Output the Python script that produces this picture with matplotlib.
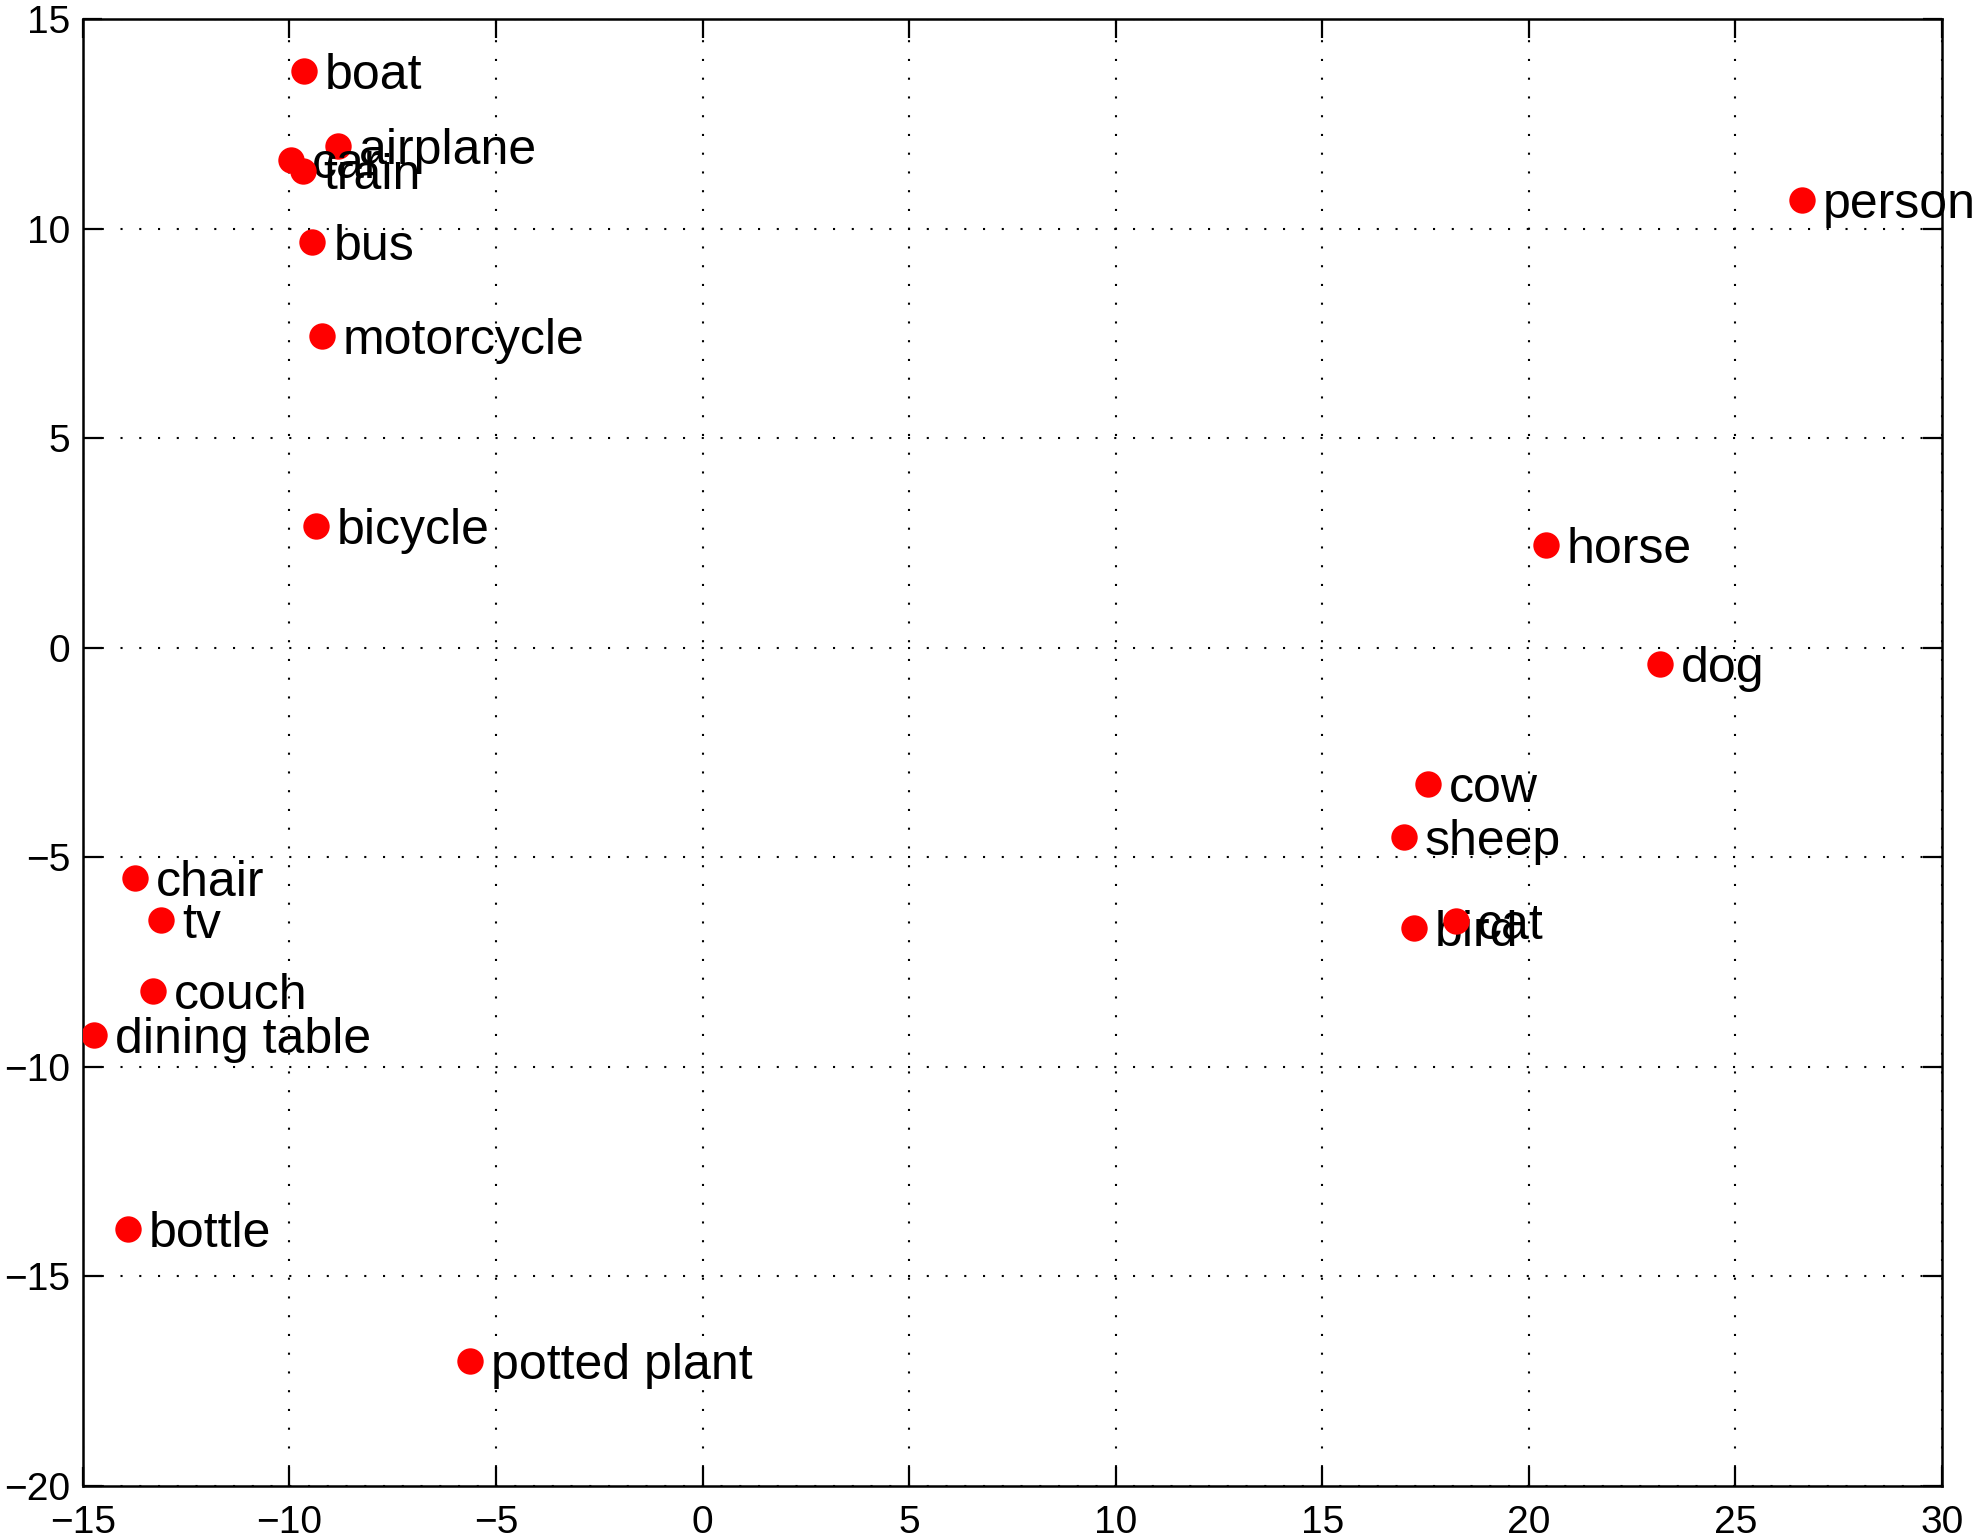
import matplotlib
matplotlib.use("Agg")
import matplotlib.pyplot as plt

plt.rcParams['font.family'] = ['Liberation Sans', 'DejaVu Sans']

# Categories (plot order) and their 2-D embedding coordinates
labels = ["airplane", "bicycle", "bird", "boat", "bottle", "bus", "car", "cat",
          "chair", "cow", "dining table", "dog", "horse", "motorcycle", "person",
          "potted plant", "sheep", "couch", "train", "tv"]
x_vals = [-8.82, -9.35, 17.22, -9.65, -13.90, -9.44, -9.95, 18.24,
          -13.73, 17.55, -14.73, 23.18, 20.41, -9.21, 26.60,
          -5.63, 16.97, -13.31, -9.68, -13.10]
y_vals = [11.97, 2.90, -6.69, 13.75, -13.86, 9.68, 11.63, -6.52,
          -5.49, -3.25, -9.24, -0.40, 2.44, 7.44, 10.68,
          -17.02, -4.52, -8.18, 11.36, -6.49]

x_ticks = [-15, -10, -5, 0, 5, 10, 15, 20, 25, 30]
y_ticks = [-20, -15, -10, -5, 0, 5, 10, 15]

fig = plt.figure(figsize=(19.75, 15.38), dpi=100)
ax = fig.add_axes([0.0419, 0.0338, 0.9414, 0.9539])

for i, (lab, xv, yv) in enumerate(zip(labels, x_vals, y_vals)):
    ax.plot([xv], [yv], 'o', color='#ff0000', markersize=19,
            markeredgewidth=0, zorder=5 + 2 * i)
    ax.annotate(lab, (xv, yv), xytext=(15, 0), textcoords='offset points',
                fontsize=36, color='black', ha='left', va='center_baseline',
                zorder=6 + 2 * i, annotation_clip=False)

ax.set_xlim(-15, 30)
ax.set_ylim(-20, 15)
ax.set_xticks(x_ticks)
ax.set_yticks(y_ticks)
ax.set_xticklabels([("\u2212%d" % -t) if t < 0 else str(t) for t in x_ticks])
ax.set_yticklabels([("\u2212%d" % -t) if t < 0 else str(t) for t in y_ticks])

ax.grid(True, color='black', linestyle=(0, (1, 8)), linewidth=1.5, zorder=1)
ax.set_axisbelow(True)
ax.tick_params(axis='both', which='major', direction='in', length=14, width=1.6,
               top=True, right=True, labelsize=28, colors='black')
ax.tick_params(axis='x', pad=14)
ax.tick_params(axis='y', pad=9)
for sp in ax.spines.values():
    sp.set_linewidth(1.8)
    sp.set_color('black')

fig.savefig("out.png", dpi=100, facecolor='white')
